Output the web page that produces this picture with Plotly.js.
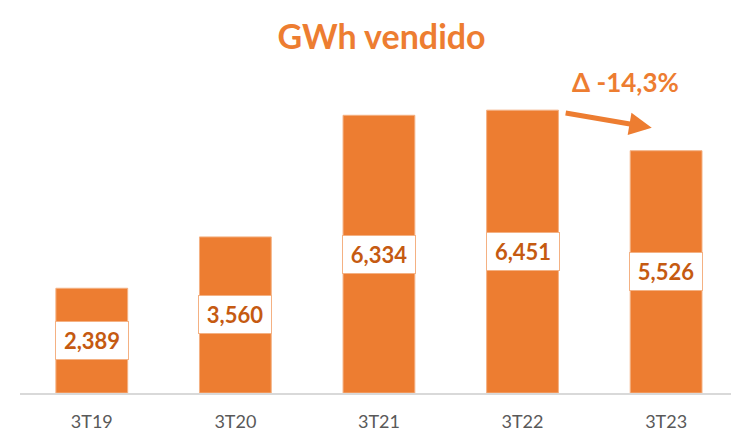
<!DOCTYPE html>
<html>
<head>
<meta charset="utf-8">
<script src="https://cdn.plot.ly/plotly-3.0.1.min.js"></script>
<style>html,body{margin:0;padding:0;background:#fff;}#chart{width:731px;height:434px;}</style>
</head>
<body>
<div id="chart"></div>
<script>
const categories = ["3T19", "3T20", "3T21", "3T22", "3T23"];
const values = [2389, 3560, 6334, 6451, 5526];
const valueLabels = ["2,389", "3,560", "6,334", "6,451", "5,526"];
const titleText = "GWh vendido";
const deltaText = "Δ -14,3%";

const orange = "#ED7D31";
const darkOrange = "#C55A11";
const FONT = "Lato, 'Open Sans', sans-serif";

const xIdx = categories.map((c, i) => i);

const annotations = values.map((v, i) => ({
  x: xIdx[i], y: v / 2, xref: "x", yref: "y",
  text: "<b>" + valueLabels[i] + "</b>",
  showarrow: false,
  font: {family: FONT, size: 22, color: darkOrange},
  bgcolor: "#FFFFFF", bordercolor: "#F4B183", borderwidth: 1,
  width: 70, height: 35, borderpad: 1
}));

annotations.push({
  x: 3.72, y: 7085, xref: "x", yref: "y",
  text: "<b>" + deltaText + "</b>", showarrow: false,
  font: {family: FONT, size: 26, color: orange}
});
annotations.push({
  x: 3.9, y: 6050, xref: "x", yref: "y",
  ax: 3.29, ay: 6390, axref: "x", ayref: "y",
  text: "", showarrow: true, arrowhead: 2, arrowsize: 0.9, arrowwidth: 5,
  arrowcolor: orange, standoff: 0, startstandoff: 0
});

const trace = {
  type: "bar", x: xIdx, y: values,
  marker: {color: orange, line: {color: "#F4B183", width: 1}},
  width: 0.5, hoverinfo: "none"
};

const layout = {
  width: 731, height: 434,
  margin: {l: 20, r: 0, t: 60, b: 41},
  paper_bgcolor: "#fff", plot_bgcolor: "#fff",
  showlegend: false,
  title: {text: "<b>" + titleText + "</b>", font: {family: FONT, size: 34, color: orange},
          x: 0.522, xanchor: "center", y: 0.915, yanchor: "middle"},
  xaxis: {
    range: [-0.5, 4.452], tickvals: xIdx, ticktext: categories,
    showline: true, linecolor: "#D9D9D9", linewidth: 2,
    showgrid: false, zeroline: false, ticks: "", ticklabelstandoff: 11,
    tickfont: {family: FONT, size: 18, color: "#595959"}, fixedrange: true
  },
  yaxis: {range: [0, 7595], visible: false, showgrid: false, zeroline: false, fixedrange: true},
  annotations: annotations
};

Plotly.newPlot("chart", [trace], layout, {displayModeBar: false, staticPlot: true});
</script>
</body>
</html>
